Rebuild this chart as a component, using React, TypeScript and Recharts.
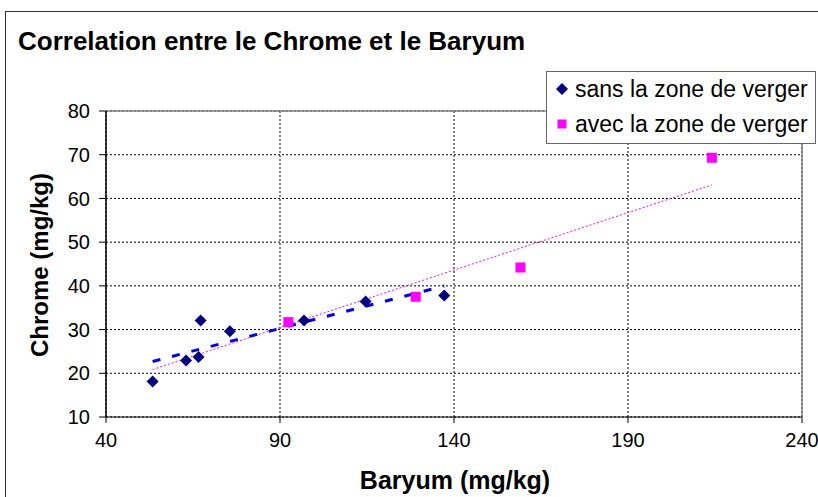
import React from 'react';
import { ScatterChart, Scatter, XAxis, YAxis, CartesianGrid, ReferenceLine, Legend } from 'recharts';

const sansBaryum = [53.4, 63.0, 66.6, 67.2, 75.6, 96.9, 114.6, 137.2];
const sansChrome = [18.1, 22.9, 23.7, 32.1, 29.6, 32.1, 36.4, 37.8];
const avecBaryum = [92.4, 129.0, 159.1, 214.1];
const avecChrome = [31.7, 37.5, 44.2, 69.3];
const xTicks = [40, 90, 140, 190, 240];
const yTicks = [10, 20, 30, 40, 50, 60, 70, 80];
const seriesNames = ['sans la zone de verger', 'avec la zone de verger'];
const chartTitle = 'Correlation entre le Chrome et le Baryum';
const xTitle = 'Baryum (mg/kg)';
const yTitle = 'Chrome (mg/kg)';

const sansData = sansBaryum.map((x, i) => ({ x, y: sansChrome[i] }));
const avecData = avecBaryum.map((x, i) => ({ x, y: avecChrome[i] }));
const allData = [...sansData, ...avecData];

const FONT = '"Liberation Sans", Arial, sans-serif';
const NAVY = '#000080';
const MAGENTA = '#FF00FF';

const Diamond = (props: any) => {
  const { cx, cy } = props;
  const r = 6;
  return <polygon points={`${cx},${cy - r} ${cx + r},${cy} ${cx},${cy + r} ${cx - r},${cy}`} fill={NAVY} />;
};
const Square = (props: any) => {
  const { cx, cy } = props;
  return <rect x={cx - 5} y={cy - 5} width={10} height={10} fill={MAGENTA} />;
};
const Empty = () => <g />;

const LegendBox = () => (
  <div
    style={{
      width: 270,
      height: 73,
      boxSizing: 'border-box',
      border: '1px solid #666',
      background: '#fff',
      fontFamily: FONT,
      fontSize: 23,
      color: '#000',
    }}
  >
    {seriesNames.map((name, i) => (
      <div key={name} style={{ position: 'relative', height: 35, lineHeight: '35px', whiteSpace: 'nowrap' }}>
        <svg width={14} height={14} style={{ position: 'absolute', left: 8, top: 10 }}>
          {i === 0 ? (
            <polygon points="7,1 13,7 7,13 1,7" fill={NAVY} />
          ) : (
            <rect x={2.5} y={2.5} width={9} height={9} fill={MAGENTA} />
          )}
        </svg>
        <span style={{ position: 'absolute', left: 28, top: 0 }}>{name}</span>
      </div>
    ))}
  </div>
);

export default function App() {
  return (
    <div style={{ position: 'absolute', left: 0, top: 0, width: 818, height: 497, overflow: 'hidden', background: '#fff' }}>
      <div
        style={{
          position: 'absolute',
          left: 5,
          top: 11,
          width: 840,
          height: 520,
          border: '1px solid #333',
          boxSizing: 'border-box',
        }}
      />
      <div style={{ position: 'absolute', left: 0, top: 0 }}>
        <ScatterChart
          width={818}
          height={497}
          margin={{ top: 111, right: 16, left: 0, bottom: 0 }}
          style={{ fontFamily: FONT }}
        >
          <CartesianGrid stroke="#000" strokeDasharray="2 2" fill="none" />
          <XAxis
            type="number"
            dataKey="x"
            domain={[40, 240]}
            ticks={xTicks}
            interval={0}
            allowDataOverflow
            height={80}
            tickSize={6}
            tickMargin={10}
            axisLine={{ stroke: '#000', strokeWidth: 1.2 }}
            tickLine={{ stroke: '#000' }}
            tick={{ fill: '#000', fontSize: 20, fontFamily: FONT }}
          />
          <YAxis
            type="number"
            dataKey="y"
            domain={[10, 80]}
            ticks={yTicks}
            interval={0}
            allowDataOverflow
            width={106}
            tickSize={7}
            tickMargin={9}
            axisLine={{ stroke: '#000', strokeWidth: 1.5 }}
            tickLine={{ stroke: '#000' }}
            tick={{ fill: '#000', fontSize: 20, fontFamily: FONT }}
          />
          <ReferenceLine y={80} stroke="#808080" strokeWidth={1.5} />
          <ReferenceLine x={240} stroke="#808080" strokeWidth={1.5} />
          <Scatter
            name="trend-all"
            data={allData}
            shape={Empty}
            line={{ stroke: MAGENTA, strokeWidth: 1, strokeDasharray: '2 2' }}
            lineType="fitting"
            legendType="none"
            isAnimationActive={false}
          />
          <Scatter
            name={seriesNames[0]}
            data={sansData}
            shape={Diamond}
            fill={NAVY}
            line={{ stroke: '#0000FF', strokeWidth: 3, strokeDasharray: '8 12' }}
            lineType="fitting"
            isAnimationActive={false}
          />
          <Scatter name={seriesNames[1]} data={avecData} shape={Square} fill={MAGENTA} isAnimationActive={false} />
          <Legend
            layout="vertical"
            align="center"
            verticalAlign="middle"
            content={LegendBox}
            wrapperStyle={{ position: 'absolute', left: 546, top: 71, width: 270, height: 73 }}
          />
        </ScatterChart>
      </div>
      <div
        style={{
          position: 'absolute',
          left: 18,
          top: 26,
          fontFamily: FONT,
          fontWeight: 'bold',
          fontSize: 26,
          color: '#000',
          whiteSpace: 'nowrap',
          lineHeight: 'normal',
        }}
      >
        {chartTitle}
      </div>
      <div
        style={{
          position: 'absolute',
          left: 455,
          top: 480,
          transform: 'translate(-50%, -50%)',
          fontFamily: FONT,
          fontWeight: 'bold',
          fontSize: 25,
          color: '#000',
          whiteSpace: 'nowrap',
        }}
      >
        {xTitle}
      </div>
      <div
        style={{
          position: 'absolute',
          left: 40,
          top: 265,
          transform: 'translate(-50%, -50%) rotate(-90deg)',
          fontFamily: FONT,
          fontWeight: 'bold',
          fontSize: 24,
          color: '#000',
          whiteSpace: 'nowrap',
        }}
      >
        {yTitle}
      </div>
    </div>
  );
}
